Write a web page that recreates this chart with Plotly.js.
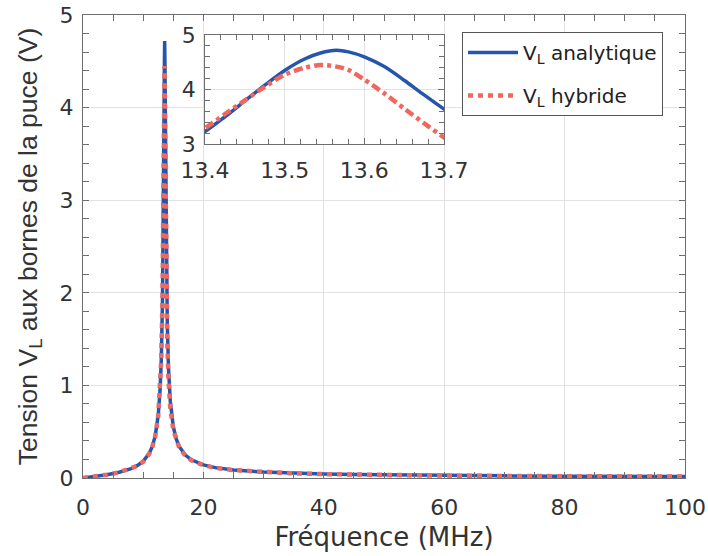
<!DOCTYPE html>
<html>
<head>
<meta charset="utf-8">
<script src="https://cdn.plot.ly/plotly-3.0.1.min.js"></script>
<style>html,body{margin:0;padding:0;background:#fff;}#chart{width:708px;height:556px;}</style>
</head>
<body>
<div id="chart"></div>
<script>
const freq = [0,1,2,4,6,8,9,10,11,11.5,12,12.5,12.8,13,13.2,13.3,13.35,13.4,13.425,13.45,13.475,13.5,13.525,13.545,13.565,13.58,13.6,13.625,13.65,13.675,13.7,13.75,13.8,13.9,14,14.2,14.5,15,15.5,16,17,18,20,22,25,30,35,40,45,50,60,70,80,90,100];
const vAnalytique = [0,0.008,0.017,0.036,0.062,0.102,0.133,0.18,0.266,0.339,0.455,0.679,0.948,1.27,1.89,2.44,2.82,3.23,3.50,3.79,4.08,4.35,4.56,4.67,4.72,4.69,4.60,4.42,4.17,3.90,3.64,3.12,2.69,2.07,1.67,1.19,0.83,0.554,0.419,0.338,0.247,0.196,0.141,0.112,0.086,0.064,0.051,0.043,0.037,0.033,0.027,0.023,0.020,0.017,0.0155];
const vHybride = [0,0.008,0.017,0.036,0.061,0.100,0.131,0.178,0.262,0.334,0.450,0.675,0.945,1.27,1.92,2.50,2.88,3.29,3.55,3.80,4.05,4.27,4.40,4.45,4.42,4.36,4.18,3.93,3.65,3.38,3.12,2.66,2.30,1.80,1.46,1.06,0.76,0.52,0.40,0.326,0.240,0.192,0.138,0.110,0.085,0.063,0.050,0.042,0.036,0.032,0.026,0.022,0.019,0.017,0.015];
const names = ['V<sub>L</sub> analytique', 'V<sub>L</sub> hybride'];
const xTitle = 'Fréquence (MHz)';
const yTitle = 'Tension V<sub>L</sub> aux bornes de la puce (V)';

const BLUE = '#2556ad', RED = '#ef675d';
const TXT = '#333333', AX = '#6e6e6e', GRID = '#e3e3e3';
const F = 'DejaVu Sans, Liberation Sans, Arial, sans-serif';

const traces = [
  {x: freq, y: vAnalytique, xaxis:'x', yaxis:'y', mode:'lines', name:names[0], legendgroup:'a',
   line:{color:BLUE, width:3.5}},
  {x: freq, y: vHybride, xaxis:'x', yaxis:'y', mode:'lines', name:names[1], legendgroup:'b',
   line:{color:RED, width:4.5, dash:'5px,5px'}},
  {x: freq, y: vAnalytique, xaxis:'x2', yaxis:'y2', mode:'lines', showlegend:false,
   line:{color:BLUE, width:3.5, shape:'spline', smoothing:0.8}},
  {x: freq, y: vHybride, xaxis:'x2', yaxis:'y2', mode:'lines', showlegend:false,
   line:{color:RED, width:4.5, dash:'9px,4px,4px,4px', shape:'spline', smoothing:0.8}}
];

const axCommon = {
  showline:true, linecolor:AX, linewidth:1, mirror:'ticks',
  ticks:'inside', ticklen:6, tickcolor:AX, tickwidth:1,
  showgrid:true, gridcolor:GRID, gridwidth:1, zeroline:false,
  tickfont:{family:F, size:22, color:TXT}
};

const layout = {
  width:708, height:556,
  margin:{l:83, r:23, t:15, b:78},
  paper_bgcolor:'#fff', plot_bgcolor:'#fff',
  showlegend:true,
  xaxis: Object.assign({}, axCommon, {
    domain:[0,1], range:[0,100], tickvals:[0,20,40,60,80,100],
    minor:{dtick:5, ticks:'inside', ticklen:6, tickcolor:AX, showgrid:false},
    ticklabelstandoff:10,
    title:{text:xTitle, font:{family:F, size:26, color:TXT}, standoff:8}
  }),
  yaxis: Object.assign({}, axCommon, {
    domain:[0,1], range:[0,5], tickvals:[0,1,2,3,4,5],
    minor:{dtick:0.2, ticks:'inside', ticklen:6, tickcolor:AX, showgrid:false},
    ticklabelstandoff:4,
    title:{text:yTitle, font:{family:'Liberation Sans, Arial, sans-serif', size:26.5, color:TXT}, standoff:14}
  }),
  xaxis2: Object.assign({}, axCommon, {
    domain:[0.2027,0.5997], range:[13.4,13.7], tickvals:[13.4,13.5,13.6,13.7],
    ticktext:['13.4','13.5','13.6','13.7'],
    minor:{dtick:0.02, ticks:'inside', ticklen:5, tickcolor:AX, showgrid:false},
    anchor:'y2', ticklabelstandoff:7
  }),
  yaxis2: Object.assign({}, axCommon, {
    domain:[0.7214,0.9568], range:[3,5], tickvals:[3,4,5],
    minor:{dtick:0.2, ticks:'inside', ticklen:5, tickcolor:AX, showgrid:false},
    anchor:'x2', ticklabelstandoff:4
  }),
  legend:{
    x:0.6296, y:0.9633, xanchor:'left', yanchor:'top',
    bgcolor:'#fff', bordercolor:'#555', borderwidth:1,
    font:{family:F, size:20, color:'#222'},
    itemwidth:50, tracegroupgap:14, valign:'middle'
  }
};

Plotly.newPlot('chart', traces, layout, {staticPlot:true, displayModeBar:false});
</script>
</body>
</html>
